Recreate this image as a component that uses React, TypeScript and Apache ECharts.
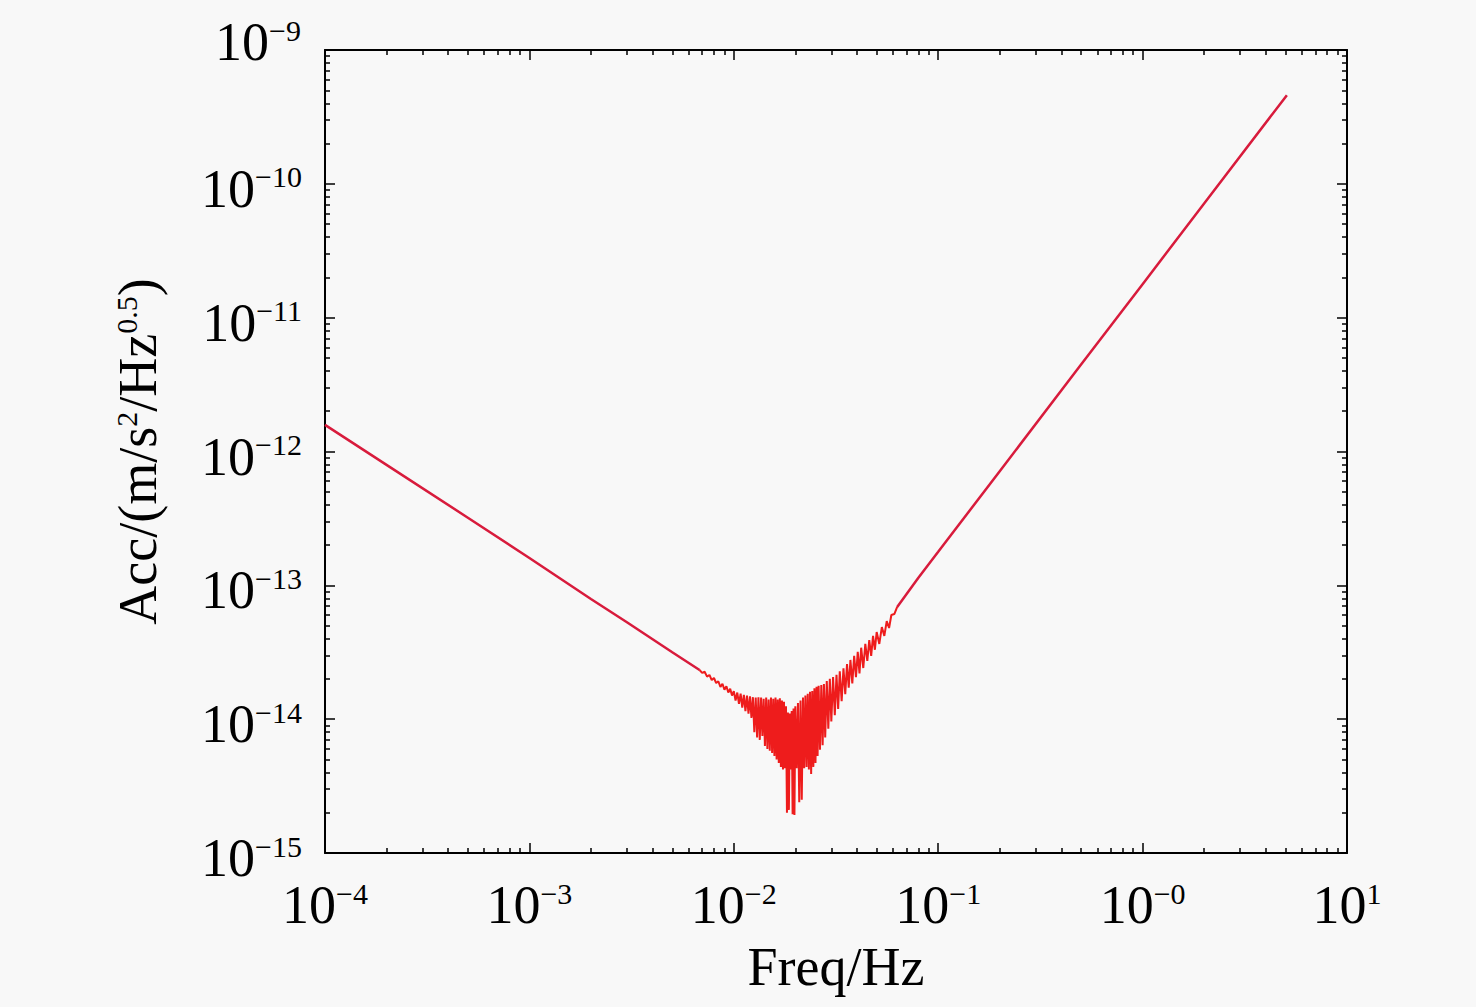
import { useEffect, useRef } from 'react';
import * as echarts from 'echarts';

// ---------- data ----------
const leftFreq = [1e-4, 2e-4, 5e-4, 1e-3, 2e-3, 3e-3, 5e-3, 0.0068];
const leftAcc = [1.58e-12, 7.95e-13, 3.2e-13, 1.6e-13, 7.9e-14, 5.3e-14, 3.16e-14, 2.33e-14];

const notchFreq = [
  0.0068, 0.0070, 0.0072, 0.0074, 0.0076, 0.0078, 0.0080, 0.0082, 0.0084, 0.0086,
  0.0088, 0.0090, 0.0092, 0.0094, 0.0096, 0.0098, 0.0100, 0.0102, 0.0104, 0.0106,
  0.0108, 0.0110, 0.0112, 0.0114, 0.0116, 0.0118, 0.0120, 0.0122, 0.0124, 0.0126,
  0.0128, 0.0130, 0.0132, 0.0134,
  0.0136, 0.0138, 0.0140, 0.0142, 0.0144, 0.0146, 0.0148, 0.0150, 0.0152, 0.0154,
  0.0156, 0.0158, 0.0160, 0.0162, 0.0164, 0.0166, 0.0168, 0.0170, 0.0172, 0.0174,
  0.0176, 0.0178, 0.0180, 0.0182, 0.0184, 0.0186, 0.0188, 0.0190, 0.0192, 0.0194,
  0.0196, 0.0198, 0.0200, 0.0203, 0.0206, 0.0209, 0.0212, 0.0215, 0.0218, 0.0221,
  0.0224, 0.0227, 0.0230, 0.0233, 0.0236, 0.0239, 0.0242, 0.0245, 0.0248, 0.0251,
  0.0254, 0.0257, 0.0260,
  0.0264, 0.0268, 0.0272, 0.0276, 0.0280, 0.0285, 0.0290, 0.0295, 0.0300, 0.0306,
  0.0312, 0.0318, 0.0324, 0.0330, 0.0337, 0.0344, 0.0351, 0.0358, 0.0365, 0.0372,
  0.0380, 0.0388, 0.0396, 0.0404, 0.0412, 0.0420, 0.0430, 0.0440, 0.0450, 0.0460,
  0.0470, 0.0480, 0.0490, 0.0500, 0.0515, 0.0530, 0.0545, 0.0560, 0.0575, 0.0590,
  0.0610, 0.0630,
];
const notchAcc = [
  2.33e-14, 2.22e-14, 2.26e-14, 2.08e-14, 2.14e-14, 1.96e-14, 2.03e-14, 1.86e-14, 1.92e-14, 1.74e-14,
  1.84e-14, 1.66e-14, 1.76e-14, 1.58e-14, 1.69e-14, 1.50e-14, 1.62e-14, 1.38e-14, 1.58e-14, 1.30e-14,
  1.55e-14, 1.22e-14, 1.52e-14, 1.15e-14, 1.50e-14, 1.10e-14, 1.48e-14, 1.02e-14, 1.46e-14, 8.0e-15,
  1.45e-14, 7.3e-15, 1.46e-14, 7.0e-15,
  1.45e-14, 7.5e-15, 1.42e-14, 6.3e-15, 1.45e-14, 6.0e-15, 1.40e-14, 5.8e-15, 1.45e-14, 5.6e-15,
  1.42e-14, 5.3e-15, 1.45e-14, 5.0e-15, 1.40e-14, 4.7e-15, 1.43e-14, 4.4e-15, 1.38e-14, 4.2e-15,
  1.35e-14, 4.3e-15, 1.25e-14, 2.0e-15, 1.12e-14, 2.1e-15, 1.10e-14, 4.2e-15, 1.15e-14, 1.95e-15,
  1.20e-14, 1.92e-15, 1.25e-14, 4.3e-15, 1.32e-14, 2.4e-15, 1.38e-14, 2.5e-15, 1.45e-14, 4.3e-15,
  1.50e-14, 4.4e-15, 1.55e-14, 4.2e-15, 1.60e-14, 3.9e-15, 1.62e-14, 4.4e-15, 1.70e-14, 4.7e-15,
  1.75e-14, 5.3e-15, 1.78e-14,
  5.9e-15, 1.80e-14, 6.4e-15, 1.83e-14, 7.3e-15, 1.93e-14, 8.5e-15, 2.0e-14, 9.6e-15, 2.06e-14,
  1.07e-14, 2.15e-14, 1.19e-14, 2.28e-14, 1.36e-14, 2.40e-14, 1.54e-14, 2.58e-14, 1.72e-14, 2.77e-14,
  1.85e-14, 2.97e-14, 2.06e-14, 3.18e-14, 2.20e-14, 3.42e-14, 2.41e-14, 3.65e-14, 2.72e-14, 3.90e-14,
  2.97e-14, 4.19e-14, 3.30e-14, 4.48e-14, 3.65e-14, 4.88e-14, 4.19e-14, 5.40e-14, 4.80e-14, 6.00e-14,
  6.10e-14, 6.90e-14,
];

const rightFreq = [0.063, 0.08, 0.1, 0.2, 0.5, 1.0, 2.0, 5.08];
const rightAcc = [6.9e-14, 1.14e-13, 1.78e-13, 7.13e-13, 4.46e-12, 1.78e-11, 7.13e-11, 4.6e-10];

const xMajor = [1e-4, 1e-3, 1e-2, 1e-1, 1, 10];
const xTickExp = ['\u22124', '\u22123', '\u22122', '\u22121', '\u22120', '1'];
const yMajor = [1e-15, 1e-14, 1e-13, 1e-12, 1e-11, 1e-10, 1e-9];
const yTickExp = ['\u221215', '\u221214', '\u221213', '\u221212', '\u221211', '\u221210', '\u22129'];
const minorMultipliers = [2, 3, 4, 5, 6, 7, 8, 9];

const xTitle = 'Freq/Hz';
const yTitle = 'Acc/(m/s{s|2}/Hz{s|0.5})';

// ---------- styling ----------
const FONT = '"Liberation Serif", "Times New Roman", serif';
const BLACK = '#000000';
const SMOOTH_COLOR = '#d81b3c';
const NOISE_COLOR = '#ee1c1c';

function minorTicks(majors: number[]) {
  const out: number[] = [];
  for (let i = 0; i < majors.length - 1; i++) {
    for (const m of minorMultipliers) out.push(m * majors[i]);
  }
  return out;
}

function labelFormatter(majors: number[], exps: string[], liftLast: boolean) {
  return (v: number) => {
    const i = majors.findIndex((m) => Math.abs(Math.log10(m) - Math.log10(v)) < 1e-6);
    if (i < 0) return '';
    if (liftLast && i === majors.length - 1) return `{bt|10}{st|${exps[i]}}{pad| }`;
    return `{b|10}{s|${exps[i]}}`;
  };
}

const tickRich = {
  b: { fontSize: 54, lineHeight: 54, fontFamily: FONT, color: BLACK },
  s: { fontSize: 30, lineHeight: 30, verticalAlign: 'top', fontFamily: FONT, color: BLACK },
  bt: { fontSize: 54, lineHeight: 54, verticalAlign: 'top', fontFamily: FONT, color: BLACK },
  st: { fontSize: 30, lineHeight: 38, verticalAlign: 'top', fontFamily: FONT, color: BLACK },
  pad: { fontSize: 4, lineHeight: 80, verticalAlign: 'top', fontFamily: FONT, color: BLACK },
};

function logAxis(
  kind: 'x' | 'y',
  position: string,
  major: boolean,
  withLabels: boolean,
  extra: any = {}
) {
  const majors = kind === 'x' ? xMajor : yMajor;
  const exps = kind === 'x' ? xTickExp : yTickExp;
  const ticks = major ? majors : minorTicks(majors);
  return {
    type: 'log',
    logBase: 10,
    gridIndex: 0,
    position,
    min: kind === 'x' ? 1e-4 : 1e-15,
    max: kind === 'x' ? 10 : 1e-9,
    axisLine: { show: major, onZero: false, lineStyle: { color: BLACK, width: 2 } },
    axisTick: {
      show: true,
      inside: true,
      length: major ? 10 : 5,
      customValues: ticks,
      lineStyle: { color: BLACK, width: 1.5 },
    },
    minorTick: { show: false },
    splitLine: { show: false },
    axisLabel: withLabels
      ? {
          show: true,
          customValues: majors,
          formatter: labelFormatter(majors, exps, kind === 'y'),
          rich: tickRich,
          fontFamily: FONT,
          color: BLACK,
          showMinLabel: true,
          showMaxLabel: true,
          hideOverlap: false,
          margin: kind === 'x' ? 25 : 23,
          padding: kind === 'y' ? [10, 0, 0, 0] : 0,
        }
      : { show: false },
    ...extra,
  };
}

export default function App() {
  const ref = useRef<HTMLDivElement>(null);

  useEffect(() => {
    document.body.style.margin = '0';
    document.body.style.background = '#f8f8f8';
    if (!ref.current) return;
    const chart = echarts.init(ref.current, null, { renderer: 'svg' });

    const toPairs = (xs: number[], ys: number[]) => xs.map((x, i) => [x, ys[i]]);

    chart.setOption({
      animation: false,
      backgroundColor: '#f8f8f8',
      grid: { left: 325, right: 129, top: 50, bottom: 154, containLabel: false },
      xAxis: [
        logAxis('x', 'bottom', true, true, {
          name: xTitle,
          nameLocation: 'middle',
          nameGap: 87,
          nameTextStyle: { fontSize: 54, lineHeight: 54, fontFamily: FONT, color: BLACK },
        }),
        logAxis('x', 'bottom', false, false),
        logAxis('x', 'top', true, false),
        logAxis('x', 'top', false, false),
      ],
      yAxis: [
        logAxis('y', 'left', true, true, {
          name: yTitle,
          nameLocation: 'middle',
          nameRotate: 90,
          nameGap: 160,
          nameTextStyle: {
            fontSize: 54,
            lineHeight: 54,
            fontFamily: FONT,
            color: BLACK,
            rich: {
              s: { fontSize: 30, lineHeight: 30, verticalAlign: 'top', fontFamily: FONT, color: BLACK },
            },
          },
        }),
        logAxis('y', 'left', false, false),
        logAxis('y', 'right', true, false),
        logAxis('y', 'right', false, false),
      ],
      series: [
        {
          type: 'line',
          xAxisIndex: 0,
          yAxisIndex: 0,
          data: toPairs(leftFreq, leftAcc),
          symbol: 'none',
          silent: true,
          lineStyle: { color: SMOOTH_COLOR, width: 2.5 },
          itemStyle: { color: SMOOTH_COLOR },
        },
        {
          type: 'line',
          xAxisIndex: 0,
          yAxisIndex: 0,
          data: toPairs(notchFreq, notchAcc),
          symbol: 'none',
          silent: true,
          lineStyle: { color: NOISE_COLOR, width: 2 },
          itemStyle: { color: NOISE_COLOR },
        },
        {
          type: 'line',
          xAxisIndex: 0,
          yAxisIndex: 0,
          data: toPairs(rightFreq, rightAcc),
          symbol: 'none',
          silent: true,
          lineStyle: { color: SMOOTH_COLOR, width: 2.5 },
          itemStyle: { color: SMOOTH_COLOR },
        },
      ],
    });

    return () => chart.dispose();
  }, []);

  return <div ref={ref} style={{ width: 1476, height: 1007, display: 'block' }} />;
}
